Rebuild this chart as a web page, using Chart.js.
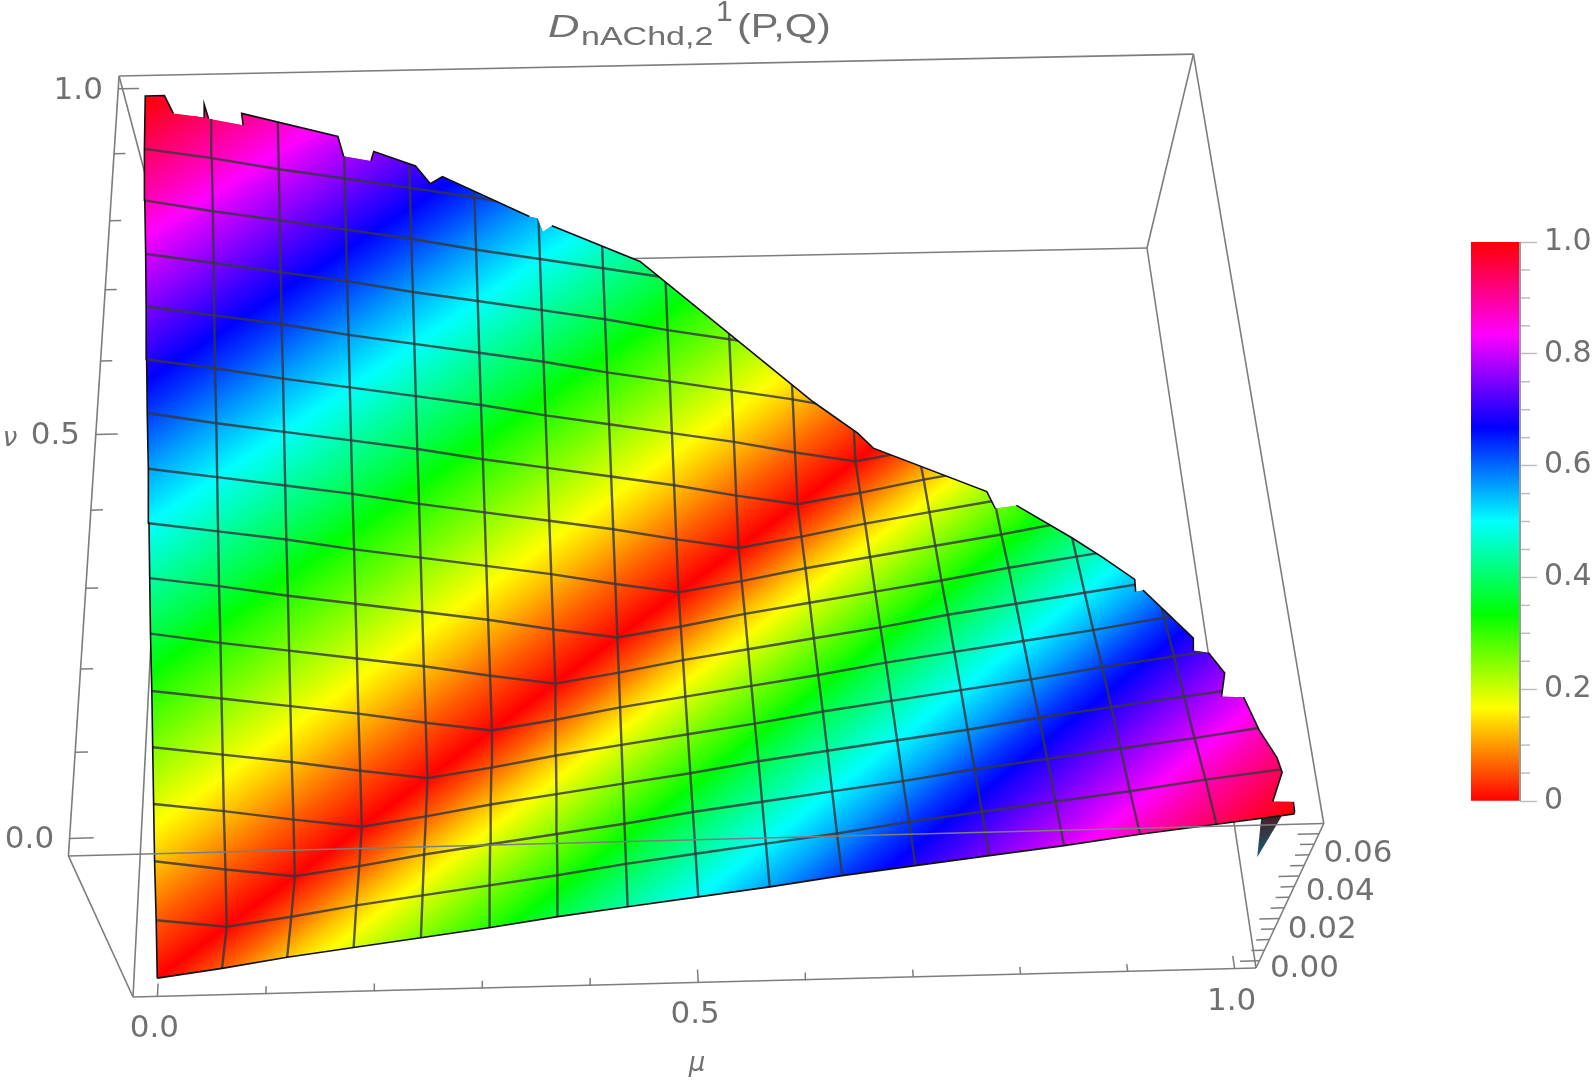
<!DOCTYPE html>
<html>
<head>
<meta charset="utf-8">
<script src="https://cdn.jsdelivr.net/npm/chart.js@4"></script>
<style>
body { margin:0; background:#fff; }
canvas { position:absolute; filter:blur(0.7px); }
</style>
</head>
<body>
<canvas id="surface" width="1594" height="1080" style="left:0;top:0"></canvas>
<canvas id="bar" width="123" height="609" style="left:1471px;top:217px"></canvas>
<script>
// D value at each mesh node, rows are nu = j/16, columns are mu = k/16
const dValues = [
 [0,.06,.13,.19,.25,.31,.38,.44,.5,.56,.63,.69,.75,.81,.88,.94,1],
 [.06,0,.06,.13,.19,.25,.31,.38,.44,.5,.56,.63,.69,.75,.81,.88,.94],
 [.13,.06,0,.06,.13,.19,.25,.31,.38,.44,.5,.56,.63,.69,.75,.81,.88],
 [.19,.13,.06,0,.06,.13,.19,.25,.31,.38,.44,.5,.56,.63,.69,.75,.81],
 [.25,.19,.13,.06,0,.06,.13,.19,.25,.31,.38,.44,.5,.56,.63,.69,.75],
 [.31,.25,.19,.13,.06,0,.06,.13,.19,.25,.31,.38,.44,.5,.56,.63,.69],
 [.38,.31,.25,.19,.13,.06,0,.06,.13,.19,.25,.31,.38,.44,.5,.56,.63],
 [.44,.38,.31,.25,.19,.13,.06,0,.06,.13,.19,.25,.31,.38,.44,.5,.56],
 [.5,.44,.38,.31,.25,.19,.13,.06,0,.06,.13,.19,.25,.31,.38,.44,.5],
 [.56,.5,.44,.38,.31,.25,.19,.13,.06,0,.06,.13,.19,.25,.31,.38,.44],
 [.63,.56,.5,.44,.38,.31,.25,.19,.13,.06,0,.06,.13,.19,.25,.31],
 [.69,.63,.56,.5,.44,.38,.31,.25,.19,.13,.06,0,.06,.13,.19],
 [.75,.69,.63,.56,.5,.44,.38,.31,.25,.19,.13,.06,0,.06],
 [.81,.75,.69,.63,.56,.5,.44,.38,.31,.25,.19,.13,.06],
 [.88,.81,.75,.69,.63,.56,.5,.44,.38,.31,.25],
 [.94,.88,.81,.75,.69,.63,.56,.5,.44],
 [1,.94,.88,.81,.75,.69,.63,.56]
];
const meshStep = 1/16;
// upper edge of the surface, from mu=0 nu=1 round to mu=1 nu=0
const boundaryMu = [.001,.019,.027,.056,.056,.06,.092,.091,.182,.187,.213,.216,.256,.27,.282,.366,.374,.379,.388,.475,.565,.646,.691,.707,.807,.812,.832,.875,.898,.921,.919,.926,.958,.955,.967,.976,.968,.986,.991,.999,1,.986,1.002,1.001];
const boundaryNu = [1.003,1.006,.986,.987,1.002,.985,.985,.998,.987,.964,.964,.976,.966,.946,.957,.925,.925,.909,.918,.89,.818,.751,.723,.707,.581,.549,.548,.47,.429,.383,.362,.364,.275,.255,.248,.214,.179,.174,.122,.08,.059,.02,.016,.003];
const boundaryD = [1,.99,.96,.93,.95,.93,.89,.91,.81,.78,.75,.76,.71,.68,.68,.56,.55,.53,.53,.42,.25,.11,.03,0,.23,.26,.28,.41,.47,.54,.56,.56,.68,.7,.72,.76,.79,.81,.87,.92,.94,.97,.99,1];
const boundaryInk = [1,1,0,1,1,0,1,1,1,0,1,1,1,1,1,0,0,0,1,1,1,1,1,1,1,0,1,1,1,1,0,1,1,0,1,1,0,1,1,1,1,0,1,1];
// dark sliver under the far corner
const sliverMu = [.974,.991,.963];
const sliverNu = [.001,.001,-.05];
const sliverD = [.97,.99,1.01];
const muTicks = [0,.1,.2,.3,.4,.5,.6,.7,.8,.9,1];
const nuTicks = [0,.1,.2,.3,.4,.5,.6,.7,.8,.9,1];
const zTicks = [0,.005,.01,.015,.02,.025,.03,.035,.04,.045,.05,.055,.06];
const axisLabels = ['0.0','0.5','1.0'];
const zLabels = ['0.00','0.02','0.04','0.06'];
const barMinorTicks = [.05,.1,.15,.25,.3,.35,.45,.5,.55,.65,.7,.75,.85,.9,.95];

const LOM=-.0225, LO=-.02, HI=1.02;
const quad=[[133,997],[1256,968],[1147,248],[170,268]];
const nadir=[681,2194];
function homography(q){
  const [x0,y0]=q[0],[x1,y1]=q[1],[x2,y2]=q[2],[x3,y3]=q[3];
  const dx1=x1-x2,dx2=x3-x2,sx=x0-x1+x2-x3,dy1=y1-y2,dy2=y3-y2,sy=y0-y1+y2-y3;
  const den=dx1*dy2-dx2*dy1, g=(sx*dy2-dx2*sy)/den, h=(dx1*sy-sx*dy1)/den;
  return [x1-x0+g*x1,x3-x0+h*x3,x0,y1-y0+g*y1,y3-y0+h*y3,y0,g,h,1];
}
const H=homography(quad);
// 3d box to the flat x,y the chart scales take
function proj(mu,nu,zF){
  const u=(mu-LOM)/(HI-LOM), v=(nu-LO)/(HI-LO), w=H[6]*u+H[7]*v+1;
  const px=(H[0]*u+H[1]*v+H[2])/w, py=(H[3]*u+H[4]*v+H[5])/w;
  const s=1+(.1175-.0175*nu)*zF;
  return {x:nadir[0]+(px-nadir[0])*s, y:nadir[1]+(py-nadir[1])*s};
}
const zOfD=d=>.015+.935*d;
const pt=(mu,nu,d)=>proj(mu,nu,zOfD(d));

const hueColor=v=>'hsl('+(v*360)+',100%,50%)';
const gctx=document.getElementById('surface').getContext('2d');
function triGradient(p,v){
  const det=(p[1].x-p[0].x)*(p[2].y-p[0].y)-(p[2].x-p[0].x)*(p[1].y-p[0].y);
  const gx=((v[1]-v[0])*(p[2].y-p[0].y)-(v[2]-v[0])*(p[1].y-p[0].y))/det;
  const gy=((p[1].x-p[0].x)*(v[2]-v[0])-(p[2].x-p[0].x)*(v[1]-v[0]))/det;
  const g2=gx*gx+gy*gy, vmin=Math.min(...v), vmax=Math.max(...v);
  if(g2<1e-12||vmax-vmin<1e-6) return hueColor(vmin);
  const s=p[v.indexOf(vmin)], k=(vmax-vmin)/g2;
  const grad=gctx.createLinearGradient(s.x,s.y,s.x+gx*k,s.y+gy*k);
  grad.addColorStop(0,hueColor(vmin)); grad.addColorStop(1,hueColor(vmax));
  for(let i=1;i<6;i++){ const h=i/6; if(h>vmin&&h<vmax) grad.addColorStop((h-vmin)/(vmax-vmin),hueColor(h)); }
  return grad;
}

const datasets=[];
const line=(data,color,width,order)=>datasets.push({data,showLine:true,fill:false,borderColor:color,borderWidth:width,pointRadius:0,tension:0,order});
const boxColor='#7d7d7d';
const edge=(a,b,c,d,e,f,order)=>line([proj(a,b,c),proj(d,e,f)],boxColor,1.6,order);
edge(LOM,LO,1,LOM,HI,1,30); edge(LOM,HI,1,HI,HI,1,30); edge(HI,HI,1,HI,LO,1,30);
edge(HI,HI,1,HI,HI,0,30); edge(HI,HI,0,LOM,HI,0,30); edge(HI,HI,0,HI,LO,0,30);
edge(LOM,LO,0,HI,LO,0,30); edge(LOM,LO,0,LOM,LO,1,30); edge(HI,LO,0,HI,LO,1,30);
edge(LOM,HI,1,LOM,HI,0,30); edge(LOM,LO,0,LOM,HI,0,30);
muTicks.forEach(t=>line([proj(t,LO,0),proj(t,LO+(t==0||t==.5||t==1?.016:.009),0)],boxColor,1.5,29));
nuTicks.forEach(t=>line([proj(LOM,t,1),proj(LOM+(t==0||t==.5||t==1?.02:.011),t,1)],boxColor,1.5,29));
const zFrac=z=>.05+.88*z/.06;
zTicks.forEach((t,i)=>line([proj(HI,LO,zFrac(t)),proj(HI-(i%4==0?.018:.012),LO,zFrac(t))],boxColor,1.5,29));

// sliver sits behind the surface
const sliverPts=sliverMu.map((m,i)=>pt(m,sliverNu[i],sliverD[i]));
const sliverGrad=gctx.createLinearGradient(0,sliverPts[0].y,0,sliverPts[2].y);
sliverGrad.addColorStop(0,'#45202e'); sliverGrad.addColorStop(1,'#14606c');
datasets.push({data:sliverPts.concat([sliverPts[0]]),showLine:true,fill:'shape',backgroundColor:sliverGrad,borderWidth:0,pointRadius:0,tension:0,order:26});

// outline: left side up, then the upper edge, then the bottom row back
const outline=[];
for(let j=0;j<16;j++) outline.push(pt(0,j*meshStep,dValues[j][0]));
const edgeStart=outline.length;
boundaryMu.forEach((m,i)=>outline.push(pt(m,boundaryNu[i],boundaryD[i])));
const edgeEnd=outline.length;
for(let k=16;k>0;k--) outline.push(pt(k*meshStep,0,dValues[0][k]));
const outlineClosed=outline.concat([outline[0]]);

datasets.push({data:[],marker:'clipStart',order:25});
datasets.push({data:outlineClosed,showLine:true,fill:'shape',backgroundColor:'#ff0030',borderWidth:0,pointRadius:0,tension:0,order:24});
const node=(j,k)=>{const r=dValues[j]; if(!r||r[k]===undefined) return null; return {p:pt(k*meshStep,j*meshStep,r[k]),v:r[k]};};
for(let j=0;j<16;j++) for(let k=0;k<16;k++){
  const a=node(j,k),b=node(j,k+1),c=node(j+1,k+1),d=node(j+1,k);
  [[a,b,c],[a,c,d]].forEach(t=>{
    if(t.some(n=>!n)) return;
    const ps=t.map(n=>n.p), g=triGradient(ps,t.map(n=>n.v));
    datasets.push({data:[ps[0],ps[1],ps[2],ps[0]],showLine:true,fill:'shape',backgroundColor:g,borderColor:g,borderWidth:1,pointRadius:0,tension:0,order:20});
  });
}
const meshColor='rgba(55,55,60,.82)';
for(let j=1;j<16;j++){ const row=[]; dValues[j].forEach((v,k)=>row.push(pt(k*meshStep,j*meshStep,v))); line(row,meshColor,2.4,10); }
for(let k=1;k<16;k++){ const col=[]; dValues.forEach((r,j)=>{ if(r[k]!==undefined) col.push(pt(k*meshStep,j*meshStep,r[k])); }); line(col,meshColor,2.4,10); }
datasets.push({data:[],marker:'clipEnd',order:5});
datasets.push({data:outlineClosed,showLine:true,fill:false,borderColor:'#111',borderWidth:1.6,pointRadius:0,tension:0,order:3,
  segment:{borderColor:c=>{ const i=c.p0DataIndex; return (i>=edgeStart&&i<edgeEnd&&!boundaryInk[i-edgeStart])?'rgba(0,0,0,0)':'#111'; }}});
edge(LOM,LO,1,HI,LO,1,1);

const labelPlugin={
  id:'labels',
  afterDatasetDraw(chart,args){
    const m=chart.data.datasets[args.index].marker;
    const ctx=chart.ctx;
    if(m==='clipStart'){
      ctx.save(); ctx.beginPath();
      outline.forEach((p,i)=>{ const x=chart.scales.x.getPixelForValue(p.x), y=chart.scales.y.getPixelForValue(p.y); i?ctx.lineTo(x,y):ctx.moveTo(x,y); });
      ctx.closePath(); ctx.clip();
    }
    if(m==='clipEnd') ctx.restore();
  },
  afterDraw(chart){
    const ctx=chart.ctx, X=chart.scales.x, Y=chart.scales.y;
    ctx.save(); ctx.fillStyle='#707070'; ctx.textBaseline='middle'; ctx.textAlign='center';
    ctx.font='31px "DejaVu Sans"';
    const put=(t,x,y)=>ctx.fillText(t,X.getPixelForValue(x),Y.getPixelForValue(y));
    axisLabels.forEach((t,i)=>{ const p=proj(i/2,LO,0); put(t,p.x-3,p.y+33); const q=proj(LOM,i/2,1); put(t,q.x-40,q.y+2); });
    zLabels.forEach((t,i)=>{ const p=proj(HI,LO,zFrac(i*.02)); put(t,p.x+45-2*i,p.y+8+4*i); });
    ctx.font='italic 26px "DejaVu Sans"';
    put('\u03bd',10,439); put('\u03bc',697,1064);
    const runs=[['D','italic 32px "Liberation Sans"',548,37,1.36],['nAChd,2','25px "Liberation Sans"',581,45,1.36],['1','30px "Liberation Sans"',716,21,1],['(P,Q)','33px "Liberation Sans"',737,37,1.26]];
    ctx.textAlign='left'; ctx.textBaseline='alphabetic';
    runs.forEach(r=>{ ctx.save(); ctx.font=r[1]; ctx.translate(X.getPixelForValue(r[2]),Y.getPixelForValue(r[3])); ctx.scale(r[4],1); ctx.fillText(r[0],0,0); ctx.restore(); });
    ctx.restore();
  }
};
new Chart(document.getElementById('surface'),{
  type:'scatter',
  data:{datasets},
  options:{responsive:false,animation:false,layout:{padding:0},
    plugins:{legend:{display:false},tooltip:{enabled:false},title:{display:false}},
    scales:{x:{type:'linear',min:0,max:1594,display:false},y:{type:'linear',min:0,max:1080,reverse:true,display:false}}},
  plugins:[labelPlugin]
});

// color bar
const barCanvas=document.getElementById('bar');
const barGrad=barCanvas.getContext('2d').createLinearGradient(0,584,0,24);
for(let i=0;i<=6;i++) barGrad.addColorStop(i/6,hueColor(i/6));
new Chart(barCanvas,{
  type:'bar',
  data:{labels:[''],datasets:[{data:[1],backgroundColor:barGrad,barPercentage:1,categoryPercentage:1}]},
  options:{responsive:false,animation:false,layout:{padding:0},
    plugins:{legend:{display:false},tooltip:{enabled:false}},
    scales:{
      x:{display:false},
      y:{position:'right',min:0,max:1,afterFit:s=>{s.width=74;},border:{display:false},
        grid:{drawOnChartArea:false,tickLength:17,tickColor:'#bdbdbd',tickWidth:1.5},
        ticks:{stepSize:.2,padding:7,color:'#707070',font:{family:'DejaVu Sans',size:30},callback:v=>v==0?'0':v.toFixed(1)}}
    }},
  plugins:[{id:'minor',afterDraw(chart){
    const ctx=chart.ctx,y=chart.scales.y,a=chart.chartArea;
    ctx.save(); ctx.strokeStyle='#bdbdbd'; ctx.lineWidth=1.5;
    barMinorTicks.forEach(t=>{ const p=y.getPixelForValue(t); ctx.beginPath(); ctx.moveTo(a.right,p); ctx.lineTo(a.right+10,p); ctx.stroke(); });
    ctx.strokeStyle='#9a9a9a'; ctx.lineWidth=2;
    ctx.beginPath(); ctx.moveTo(a.right,a.top); ctx.lineTo(a.right,a.bottom); ctx.stroke();
    ctx.restore();
  }}]
});
</script>
</body>
</html>
